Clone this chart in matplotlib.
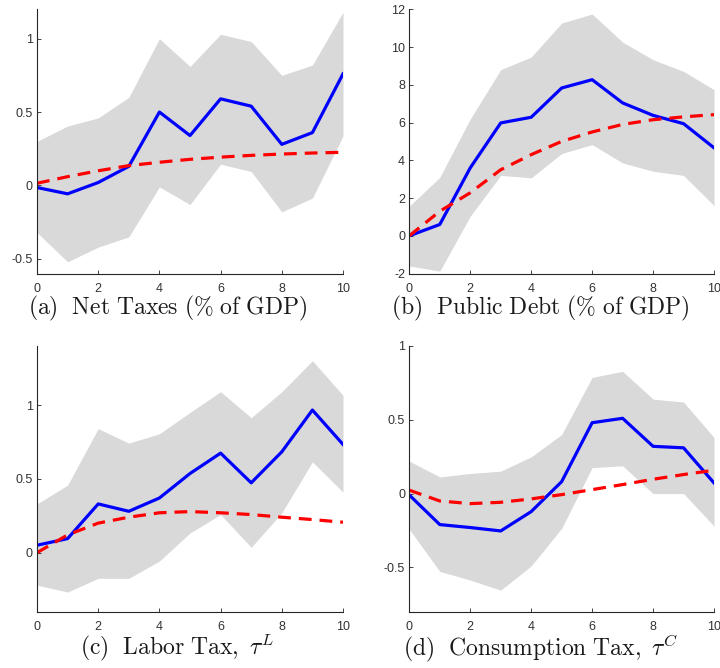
import numpy as np
import matplotlib
matplotlib.use('Agg')
from matplotlib import pyplot as plt

plt.rcParams['mathtext.fontset'] = 'cm'
plt.rcParams['font.family'] = ['Liberation Sans', 'DejaVu Sans']

horizon = list(range(11))

# Net taxes (% of GDP)
tax_irf = [-0.014, -0.057, 0.02, 0.13, 0.50, 0.34, 0.59, 0.54, 0.28, 0.36, 0.76]
tax_model = [0.015, 0.06, 0.10, 0.135, 0.158, 0.178, 0.193, 0.205, 0.214, 0.221, 0.226]
tax_hi = [0.30, 0.405, 0.46, 0.60, 1.0, 0.81, 1.03, 0.98, 0.75, 0.82, 1.18]
tax_lo = [-0.32, -0.52, -0.42, -0.35, -0.01, -0.13, 0.145, 0.095, -0.18, -0.086, 0.337]

# Public debt (% of GDP)
debt_irf = [0.0, 0.6, 3.6, 5.98, 6.28, 7.83, 8.27, 7.04, 6.38, 5.94, 4.66]
debt_model = [0.0, 1.3, 2.28, 3.5, 4.3, 5.0, 5.5, 5.9, 6.15, 6.3, 6.42]
debt_hi = [1.57, 3.1, 6.19, 8.8, 9.47, 11.27, 11.75, 10.26, 9.33, 8.71, 7.74]
debt_lo = [-1.6, -1.87, 1.04, 3.2, 3.07, 4.36, 4.83, 3.86, 3.42, 3.2, 1.6]

# Labor tax
labor_irf = [0.05, 0.095, 0.33, 0.28, 0.37, 0.536, 0.674, 0.473, 0.683, 0.966, 0.733]
labor_model = [0.0, 0.12, 0.2, 0.24, 0.27, 0.278, 0.27, 0.258, 0.24, 0.224, 0.206]
labor_hi = [0.33, 0.457, 0.84, 0.742, 0.805, 0.95, 1.09, 0.914, 1.09, 1.3, 1.066]
labor_lo = [-0.22, -0.267, -0.174, -0.174, -0.057, 0.133, 0.258, 0.036, 0.27, 0.615, 0.41]

# Consumption tax
cons_irf = [-0.01, -0.21, -0.23, -0.253, -0.122, 0.081, 0.48, 0.51, 0.32, 0.31, 0.072]
cons_model = [0.023, -0.05, -0.068, -0.059, -0.036, -0.007, 0.027, 0.061, 0.097, 0.129, 0.158]
cons_hi = [0.22, 0.113, 0.136, 0.152, 0.249, 0.40, 0.787, 0.828, 0.64, 0.62, 0.38]
cons_lo = [-0.242, -0.527, -0.586, -0.654, -0.49, -0.235, 0.176, 0.188, 0.0, 0.0, -0.22]

panels = [
    dict(pos=[0.0514, 0.5905, 0.425, 0.3956], irf=tax_irf, model=tax_model,
         hi=tax_hi, lo=tax_lo, ylim=(-0.6, 1.2), yticks=[-0.5, 0, 0.5, 1],
         ylabels=['-0.5', '0', '0.5', '1'],
         caption=r'$\mathrm{(a)\ \ Net\ Taxes\ (\%\ of\ GDP)}$', cap_xy=(168, 308)),
    dict(pos=[0.5685, 0.5905, 0.4232, 0.3956], irf=debt_irf, model=debt_model,
         hi=debt_hi, lo=debt_lo, ylim=(-2, 12), yticks=list(range(-2, 13, 2)),
         ylabels=[str(v) for v in range(-2, 13, 2)],
         caption=r'$\mathrm{(b)\ \ Public\ Debt\ (\%\ of\ GDP)}$', cap_xy=(540, 308)),
    dict(pos=[0.0514, 0.0843, 0.425, 0.3978], irf=labor_irf, model=labor_model,
         hi=labor_hi, lo=labor_lo, ylim=(-0.4, 1.4), yticks=[0, 0.5, 1],
         ylabels=['0', '0.5', '1'],
         caption=r'$\mathrm{(c)\ \ Labor\ Tax,}\ \tau^L$', cap_xy=(177, 648)),
    dict(pos=[0.5685, 0.0843, 0.4232, 0.3978], irf=cons_irf, model=cons_model,
         hi=cons_hi, lo=cons_lo, ylim=(-0.8, 1.0), yticks=[-0.5, 0, 0.5, 1],
         ylabels=['-0.5', '0', '0.5', '1'],
         caption=r'$\mathrm{(d)\ \ Consumption\ Tax,}\ \tau^C$', cap_xy=(541, 648)),
]

fig = plt.figure(figsize=(7.2, 6.68), dpi=100)

for p in panels:
    ax = fig.add_axes(p['pos'])
    ax.fill_between(horizon, p['lo'], p['hi'], color='#d9d9d9', linewidth=0)
    ax.plot(horizon, p['irf'], color='#0000ff', linewidth=2.3)
    ax.plot(horizon, p['model'], color='#ff0000', linewidth=2.3,
            linestyle=(0, (4, 2.5)))
    ax.set_xlim(0, 10)
    ax.set_ylim(*p['ylim'])
    ax.set_xticks(range(0, 11, 2))
    ax.set_yticks(p['yticks'])
    ax.set_yticklabels(p['ylabels'])
    for side in ['top', 'right']:
        ax.spines[side].set_visible(False)
    for side in ['left', 'bottom']:
        ax.spines[side].set_color('#262626')
        ax.spines[side].set_linewidth(0.8)
    ax.tick_params(direction='in', length=3, width=0.6, color='#262626',
                   labelsize=9, labelcolor='#333333')
    ax.tick_params(axis='x', pad=6.5)
    ax.tick_params(axis='y', pad=3)
    cx, cy = p['cap_xy']
    fig.text(cx / 720, 1 - cy / 668, p['caption'], ha='center', va='center',
             fontsize=17, color='#1a1a1a')

plt.savefig('out.png', dpi=100)
plt.close()
